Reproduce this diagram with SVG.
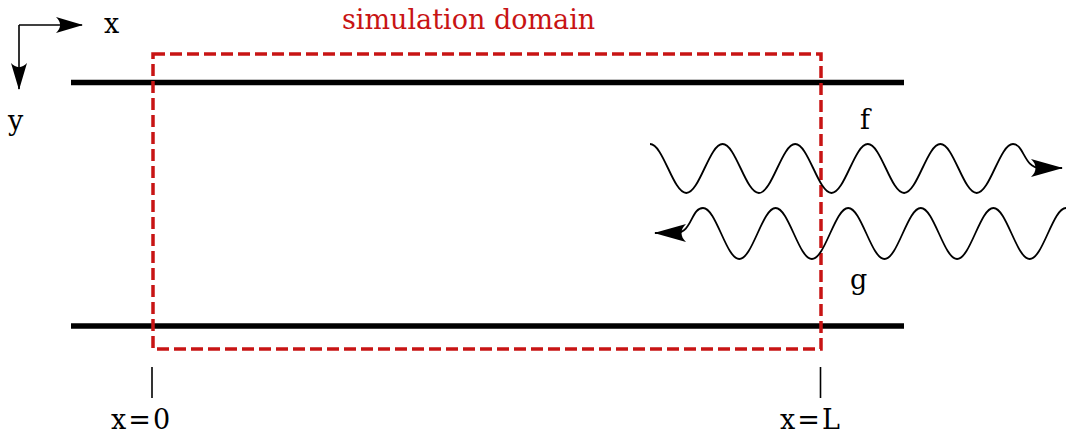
<svg xmlns="http://www.w3.org/2000/svg" width="1067" height="435" viewBox="0 0 1067 435">
  <style>
    .lbl { font-family: "DejaVu Serif", "Liberation Serif", serif; font-size: 27px; fill: #000; }
    .eqn { word-spacing: -6.5px; }
    .red { fill: #c81414; }
    .wall { stroke: #000; stroke-width: 5.5; fill: none; }
    .domain { stroke: #c81414; stroke-width: 3.5; fill: none; stroke-dasharray: 12 5; }
    .thin { stroke: #000; stroke-width: 1.6; fill: none; }
    .wave { stroke: #000; stroke-width: 1.8; fill: none; stroke-linejoin: round; }
  </style>
  <defs>
    <marker id="head" markerUnits="userSpaceOnUse" markerWidth="40" markerHeight="24" refX="0" refY="0" orient="auto" overflow="visible">
      <path d="M1,0 L-31,-9 C-25,-3.5 -25,3.5 -31,9 Z" fill="#000"/>
    </marker>
    <marker id="headSmall" markerUnits="userSpaceOnUse" markerWidth="34" markerHeight="20" refX="0" refY="0" orient="auto" overflow="visible">
      <path d="M1,0 L-26,-8 C-20.5,-3 -20.5,3 -26,8 Z" fill="#000"/>
    </marker>
  </defs>

  <!-- coordinate axes -->
  <g id="axes">
    <path class="thin" d="M19,25 L82,25" marker-end="url(#headSmall)"/>
    <path class="thin" d="M19,25 L19,89" marker-end="url(#headSmall)"/>
    <text class="lbl" x="104" y="33">x</text>
    <text class="lbl" x="8" y="130">y</text>
  </g>

  <!-- channel walls -->
  <g id="walls">
    <line class="wall" x1="71" y1="82.5" x2="904" y2="82.5"/>
    <line class="wall" x1="71" y1="326" x2="904" y2="326"/>
  </g>

  <!-- simulation domain -->
  <g id="domain">
    <rect class="domain" x="153" y="54" width="668" height="295"/>
    <text class="lbl red" x="342" y="29">simulation domain</text>
  </g>

  <!-- boundary markers -->
  <g id="bounds">
    <line class="thin" x1="152" y1="367" x2="152" y2="398"/>
    <line class="thin" x1="820.5" y1="367" x2="820.5" y2="398"/>
    <text class="lbl eqn" x="111" y="429">x = 0</text>
    <text class="lbl eqn" x="780" y="429">x = L</text>
  </g>

  <!-- waves -->
  <g id="connectors">
    <path id="wave-f" class="wave" marker-end="url(#head)" d="M650,144 C663.2,144 673.1,193 686.3,193 S709.4,144 722.6,144 S745.7,193 758.9,193 S782,144 795.2,144 S818.3,193 831.5,193 S854.6,144 867.8,144 S890.9,193 904.1,193 S927.2,144 940.4,144 S963.5,193 976.7,193 S999.8,144 1013,144 C1024,144 1024,168 1040,168 L1062,168"/>
    <path id="wave-g" class="wave" marker-end="url(#head)" d="M1066,208 C1052.8,208 1042.9,259 1029.7,259 S1006.6,208 993.4,208 S970.3,259 957.1,259 S934,208 920.8,208 S897.7,259 884.5,259 S861.4,208 848.2,208 S825.1,259 811.9,259 S788.8,208 775.6,208 S752.5,259 739.3,259 S716.2,208 703,208 C691,208 692,233 676,233 L655,233"/>
  </g>
  <g id="wave-labels">
    <text class="lbl" x="860" y="129">f</text>
    <text class="lbl" x="850" y="289">g</text>
  </g>
</svg>
